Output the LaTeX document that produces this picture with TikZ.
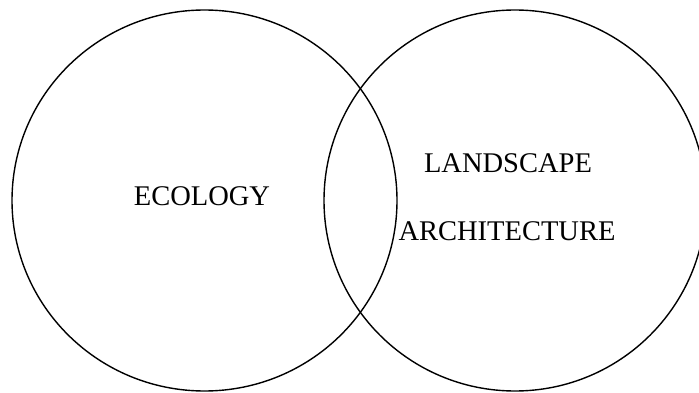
\documentclass[tikz,border=0pt]{standalone}
\usepackage{fontspec}
\setmainfont{Liberation Serif}
\begin{document}
\begin{tikzpicture}[x=1pt,y=-1pt,
  ring/.style={draw=black,line width=1.4pt},
  lbl/.style={anchor=base,inner sep=0pt,font=\fontsize{28.5}{30}\selectfont}]
\useasboundingbox (0,0) rectangle (699,393);
\draw[ring] (204.5,200.5) ellipse [x radius=192.5, y radius=190.5];
\draw[ring] (515,200.5) ellipse [x radius=191, y radius=190.5];
\node[lbl] (eco) at (202,205) {ECOLOGY};
\node[lbl] (land) at (508,172) {LANDSCAPE};
\node[lbl] (arch) at (507,240) {ARCHITECTURE};
\end{tikzpicture}
\end{document}
